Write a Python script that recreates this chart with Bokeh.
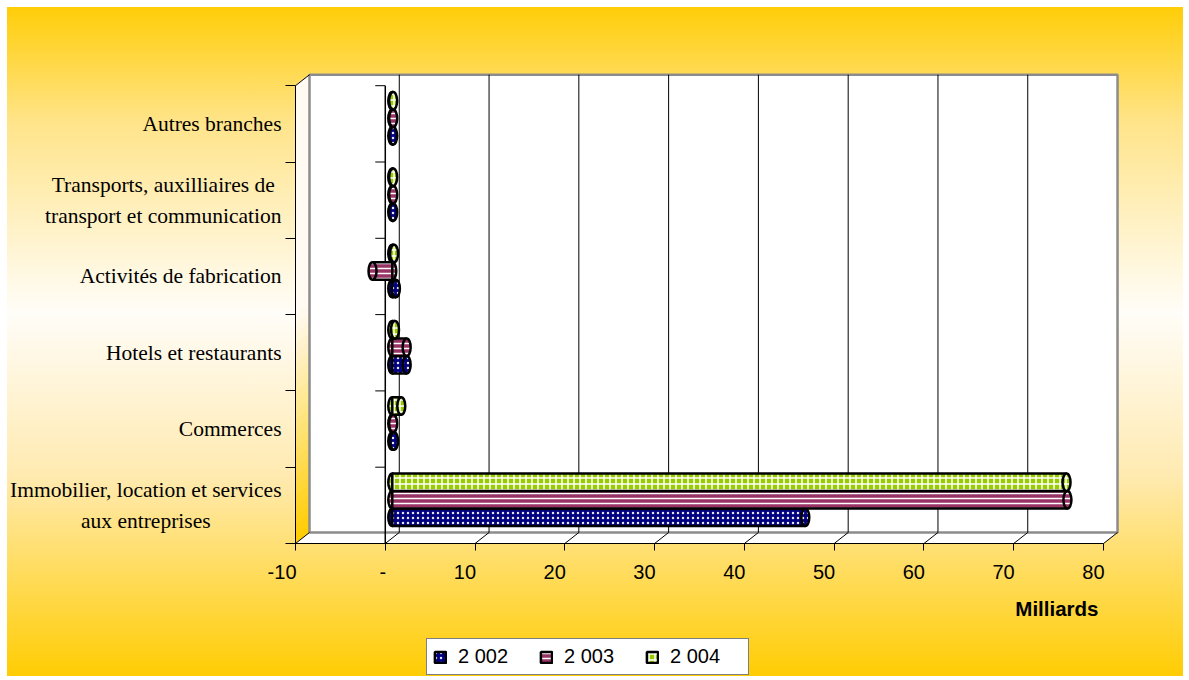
from bokeh.plotting import figure
from bokeh.models import (Range1d, LinearAxis, FixedTicker, Label, Legend, LegendItem,
                          ColumnDataSource)
from bokeh.core.properties import value
from bokeh.embed import file_html
from bokeh.resources import INLINE

# ---- data (billions) ----
categories = [
    "Immobilier, location et services\naux entreprises",
    "Commerces",
    "Hotels et restaurants",
    "Activités de fabrication",
    "Transports, auxilliaires de\ntransport et communication",
    "Autres branches",
]
years = ["2 002", "2 003", "2 004"]
v2002 = [46.0, 0.2, 1.6, 0.4, 0.1, 0.1]
v2003 = [75.2, 0.1, 1.6, -2.2, 0.1, 0.1]
v2004 = [75.1, 1.0, 0.3, 0.2, 0.1, 0.1]
x_ticks = [-10, 0, 10, 20, 30, 40, 50, 60, 70, 80]
x_tick_labels = ["-10", "-", "10", "20", "30", "40", "50", "60", "70", "80"]

# ---- page / box geometry (pixels) ----
W, H = 1189, 680
AXIS_LEFT_PX, AXIS_BOTTOM_PX = 295, 543   # front-left corner of the box
PX_PER_X = 8.978                          # pixels per billion
PX_PER_CAT = 76.3                         # pixels per category band
X0, X1 = -10, 80
N = len(categories)
DX = 14 / PX_PER_X        # depth offset of the back wall, in x data units
DY = 11 / PX_PER_CAT      # depth offset of the back wall, in y data units


def xd(px):
    return X0 + (px - AXIS_LEFT_PX) / PX_PER_X


def yd(py):
    return (AXIS_BOTTOM_PX - py) / PX_PER_CAT


p = figure(width=W, height=H, x_range=Range1d(xd(0), xd(W)), y_range=Range1d(yd(H), yd(0)),
           output_backend="svg", toolbar_location=None,
           x_axis_type=None, y_axis_type=None, min_border=0,
           border_fill_color=None, background_fill_color=None, outline_line_color=None)
p.styles = {
    "background": "linear-gradient(180deg, #ffcc00 0%, #ffe48a 18%, #fffdf8 46%, #ffeab0 70%, #ffcc00 100%)",
    "box-shadow": "inset 7px 7px 0 0 #ffffff, inset -6px -4px 0 0 #ffffff",
}


# left side wall, pale at the top to yellow at the bottom
def mix(c1, c2, t):
    return "#%02x%02x%02x" % tuple(int(round(a + (b - a) * t)) for a, b in zip(c1, c2))


yellow, pale = (255, 204, 0), (255, 250, 242)
strips = 48
xs, ys, cols = [], [], []
for i in range(strips):
    y0, y1 = N * i / strips, N * (i + 1) / strips
    xs.append([X0, X0, X0 + DX, X0 + DX])
    ys.append([y0, y1, y1 + DY, y0 + DY])
    t = min(1.0, ((y0 + y1) / 2) / (N * 0.5))
    cols.append(mix(yellow, pale, t))
p.patches(xs, ys, fill_color=cols, line_color=cols, line_width=1)

# floor
p.patch([X0, X1, X1 + DX, X0 + DX], [0, 0, DY, DY], fill_color="white", line_color=None)

# back wall with its vertical gridlines
p.quad(left=X0 + DX, right=X1 + DX, bottom=DY, top=N + DY,
       fill_color="white", line_color="#8c8c8c", line_width=2.5)
inner = [t for t in x_ticks if X0 < t < X1]
p.segment(x0=[t + DX for t in inner], y0=[DY] * len(inner),
          x1=[t + DX for t in inner], y1=[N + DY] * len(inner),
          line_color="black", line_width=1)
# floor gridlines running into depth
p.segment(x0=x_ticks, y0=[0] * len(x_ticks), x1=[t + DX for t in x_ticks], y1=[DY] * len(x_ticks),
          line_color="black", line_width=1)
# top-left edge of the side wall
p.segment(x0=[X0], y0=[N], x1=[X0 + DX], y1=[N + DY], line_color="black", line_width=1)

# category axis crossing at zero on the front plane
tick_len = 10 / PX_PER_X
p.segment(x0=[0], y0=[0], x1=[0], y1=[N], line_color="black", line_width=1.5)
p.segment(x0=[-tick_len] * (N + 1), y0=list(range(N + 1)), x1=[0] * (N + 1), y1=list(range(N + 1)),
          line_color="black", line_width=1)

# ---- cylinders ----
BAR_H = 17.5 / PX_PER_CAT
CAP_W = 8 / PX_PER_X
series = [
    (v2002, -BAR_H, dict(fill_color="#000080", hatch_pattern="dot", hatch_color="white",
                         hatch_scale=5, hatch_weight=3.5, hatch_alpha=0.9)),
    (v2003, 0.0, dict(fill_color="#993366", hatch_pattern="horizontal_line", hatch_color="white",
                      hatch_scale=5, hatch_weight=1.5)),
    (v2004, BAR_H, dict(fill_color="#99cc00", hatch_pattern="cross", hatch_color="white",
                        hatch_scale=6, hatch_weight=1.5)),
]
bar_renderers = []
for vals, off, style in series:
    yc = [i + 0.5 + DY / 2 + off for i in range(N)]
    base = [DX / 2] * N
    end = [DX / 2 + v for v in vals]
    src = ColumnDataSource(dict(y=yc, left=base, right=end))
    p.ellipse(x="left", y="y", width=CAP_W, height=BAR_H, source=src,
              line_color="black", line_width=2.5, **style)
    r = p.hbar(y="y", left="left", right="right", height=BAR_H, source=src,
               line_color="black", line_width=2.5, **style)
    p.ellipse(x="right", y="y", width=CAP_W, height=BAR_H, source=src,
              line_color="black", line_width=2.5, **style)
    bar_renderers.append(r)

# ---- axes on the front plane: lines and tick marks ----
xaxis = LinearAxis(ticker=FixedTicker(ticks=[], minor_ticks=x_ticks), bounds=(X0, X1),
                   fixed_location=0, major_tick_in=0, major_tick_out=0,
                   minor_tick_in=0, minor_tick_out=7, minor_tick_line_color="black",
                   axis_line_color="black")
p.add_layout(xaxis, "below")

yaxis = LinearAxis(ticker=FixedTicker(ticks=[], minor_ticks=list(range(N + 1))), bounds=(0, N),
                   fixed_location=X0, major_tick_in=0, major_tick_out=0,
                   minor_tick_in=0, minor_tick_out=10, minor_tick_line_color="black",
                   axis_line_color="black")
p.add_layout(yaxis, "left")

# value labels, right-aligned just past each tick
p.text(x=x_ticks, y=[yd(571)] * len(x_ticks), text=x_tick_labels, x_offset=1,
       text_align="right", text_baseline="middle",
       text_font=value("Liberation Sans"), text_font_size="20px", text_color="black")

# category labels: block anchored on its right side, lines centred
p.text(x=[X0] * N, y=[i + 0.5 for i in range(N)], text=categories, x_offset=-14,
       anchor="center_right", text_align="center", text_line_height=1.3,
       text_font=value("Liberation Serif"), text_font_size="21.5px", text_color="black")

p.add_layout(Label(x=xd(1098), y=yd(608), text="Milliards", text_align="right",
                   text_baseline="middle", text_font="Liberation Sans", text_color="black",
                   text_font_style="bold", text_font_size="20.5px"))

legend = Legend(items=[LegendItem(label=y, renderers=[r]) for y, r in zip(years, bar_renderers)],
                orientation="horizontal", location=(426, 5),
                glyph_width=14, glyph_height=14, label_standoff=11, label_width=72,
                spacing=9, padding=6, margin=0,
                label_text_font="Liberation Sans", label_text_font_size="20px",
                label_text_color="black",
                border_line_color="black", border_line_width=1,
                background_fill_color="white", background_fill_alpha=1.0)
p.add_layout(legend, "center")

open("out.html", "w").write(file_html(p, INLINE))
